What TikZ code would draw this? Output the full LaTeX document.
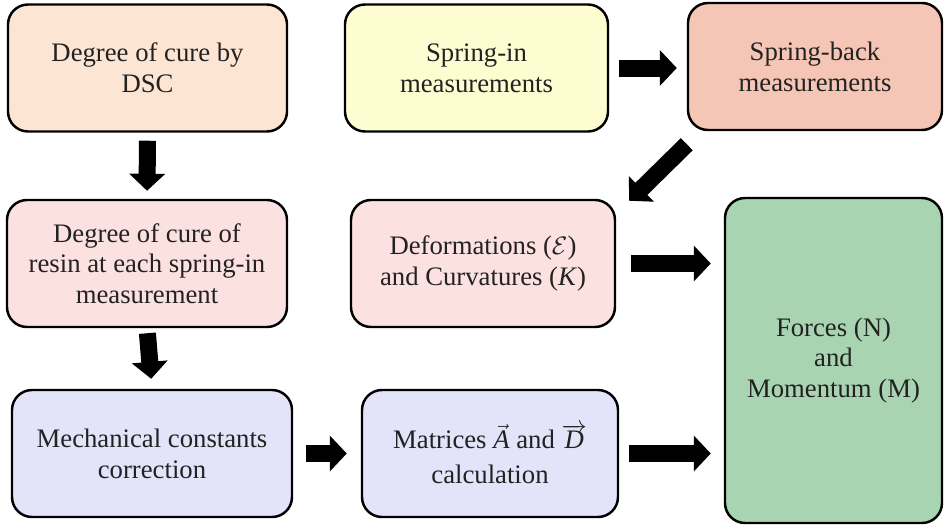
\documentclass[tikz,border=0pt]{standalone}
\usepackage{fontspec}
\setmainfont{Liberation Serif}
\usetikzlibrary{arrows.meta}
\usepackage{xcolor}
\definecolor{dscfill}{HTML}{FCE5D3}
\definecolor{infill}{HTML}{FEFDD2}
\definecolor{backfill}{HTML}{F5C6B6}
\definecolor{pinkfill}{HTML}{FCE1E1}
\definecolor{lavfill}{HTML}{E3E3FA}
\definecolor{greenfill}{HTML}{A9D4B1}
\definecolor{txt}{HTML}{222222}

\begin{document}
\begin{tikzpicture}[
    box/.style={draw=black, fill=#1, rounded corners=0.4cm,
                minimum height=2.54cm, align=center, text=txt,
                font=\fontsize{15.2}{17.5}\selectfont, line width=1.4pt},
    blockarrow/.style={draw=black, line width=0.34cm,
                       -{Triangle[width=0.7cm, length=0.34cm]}},
]
\useasboundingbox (0,0) rectangle (18.88,-10.62);

% Ligne du haut
\node[box=dscfill, minimum width=5.58cm] (dsc) at (2.95, -1.36) {
    Degree of cure by\\DSC
};
\node[box=infill, minimum width=5.26cm] (springin) at (9.53, -1.36) {
    Spring-in\\measurements
};
\node[box=backfill, minimum width=5.08cm] (springback) at (16.30, -1.33) {
    Spring-back\\measurements
};

% Ligne du milieu
\node[box=pinkfill, minimum width=5.6cm] (resin) at (2.94, -5.27) {
    Degree of cure of\\resin at each spring-in\\measurement
};
\node[box=pinkfill, minimum width=5.28cm] (deform) at (9.66, -5.27) {
    Deformations ($\mathcal{E}$)\\and Curvatures (\textit{K})
};

% Ligne du bas
\node[box=lavfill, minimum width=5.6cm] (mech) at (3.04, -9.07) {
    Mechanical constants\\correction
};
\node[box=lavfill, minimum width=5.12cm] (matrices) at (9.80, -9.07) {
    Matrices $\vec{\textit{A}}$ and $\overrightarrow{\textit{D}}$\\[2pt]calculation
};

% Droite : efforts
\node[box=greenfill, minimum width=4.34cm, minimum height=6.5cm] (forces) at (16.67, -7.21) {
    Forces (N)\\and\\Momentum (M)
};

% Flèches
\draw[blockarrow, shorten <=0.16cm, shorten >=0.16cm] (dsc.south) -- (resin.north);
\draw[blockarrow, shorten <=0.1cm, shorten >=0.2cm] (resin.south) -- (mech.north);
\draw[blockarrow, shorten <=0.2cm, shorten >=0.2cm] (springin.east) -- (springin.east -| springback.west);
\draw[blockarrow] ([shift={(0,-0.26)}]springback.south west) -- ([shift={(0.26,-0.04)}]deform.north east);
\draw[blockarrow, shorten <=0.3cm, shorten >=0.26cm] (deform.east) -- (deform.east -| forces.west);
\draw[blockarrow, shorten <=0.26cm, shorten >=0.28cm] (mech.east) -- (matrices.west);
\draw[blockarrow, shorten <=0.2cm, shorten >=0.26cm] (matrices.east) -- (matrices.east -| forces.west);

\end{tikzpicture}
\end{document}
